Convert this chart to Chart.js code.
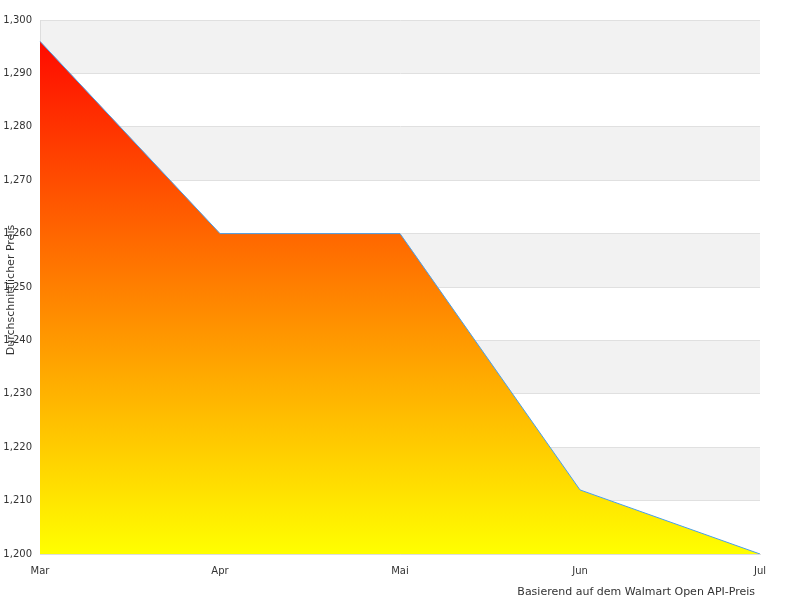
<!DOCTYPE html>
<html><head><meta charset="utf-8">
<script src="https://cdn.jsdelivr.net/npm/chart.js@4"></script>
<style>body{margin:0;background:#fff}#wrap{width:800px;height:600px;position:relative}</style>
</head><body><div id="wrap"><canvas id="c" width="800" height="600"></canvas></div>
<script>
const labels = ["Mar", "Apr", "Mai", "Jun", "Jul"];
const prices = [1296, 1260, 1260, 1212, 1200];
const footer = "Basierend auf dem Walmart Open API-Preis";

const bands = {
  id: "bands",
  beforeDraw(chart) {
    const { ctx, chartArea: a, scales: { y } } = chart;
    ctx.save();
    ctx.fillStyle = "#f2f2f2";
    for (let v = 1210; v < 1300; v += 20) {
      const top = y.getPixelForValue(v + 10), bot = y.getPixelForValue(v);
      ctx.fillRect(a.left, top, a.right - a.left, bot - top);
    }
    ctx.restore();
  },
  afterDraw(chart) {
    const { ctx } = chart;
    ctx.save();
    ctx.font = "11px 'DejaVu Sans'";
    ctx.fillStyle = "#333";
    ctx.textAlign = "right";
    ctx.fillText(footer, 755, 595);
    ctx.translate(14, 290);
    ctx.rotate(-Math.PI / 2);
    ctx.textAlign = "center";
    ctx.fillText("Durchschnittlicher Preis", 0, 0);
    ctx.restore();
  }
};

new Chart(document.getElementById("c"), {
  type: "line",
  data: {
    labels,
    datasets: [{
      data: prices,
      borderColor: "#4a9fe8",
      borderWidth: 1,
      pointRadius: 0,
      tension: 0,
      fill: "origin",
      backgroundColor(ctx) {
        const a = ctx.chart.chartArea;
        if (!a) return "orange";
        const g = ctx.chart.ctx.createLinearGradient(0, a.top, 0, a.bottom);
        g.addColorStop(0, "#ff0000");
        g.addColorStop(1, "#ffff00");
        return g;
      }
    }]
  },
  options: {
    responsive: false,
    animation: false,
    layout: { padding: { left: 0, right: 40, top: 20, bottom: 20 } },
    plugins: { legend: { display: false }, tooltip: { enabled: false } },
    scales: {
      x: {
        offset: false,
        grid: { display: false },
        border: { color: "#ddd" },
        ticks: { color: "#333", font: { family: "DejaVu Sans", size: 10 }, maxRotation: 0 }
      },
      y: {
        min: 1200, max: 1300,
        afterFit(s) { s.width = 40; },
        grid: { color: "#e0e0e0", drawTicks: false },
        border: { color: "#ddd" },
        ticks: { stepSize: 10, color: "#333", padding: 8, font: { family: "DejaVu Sans", size: 10 } }
      }
    }
  },
  plugins: [bands]
});
</script></body></html>
